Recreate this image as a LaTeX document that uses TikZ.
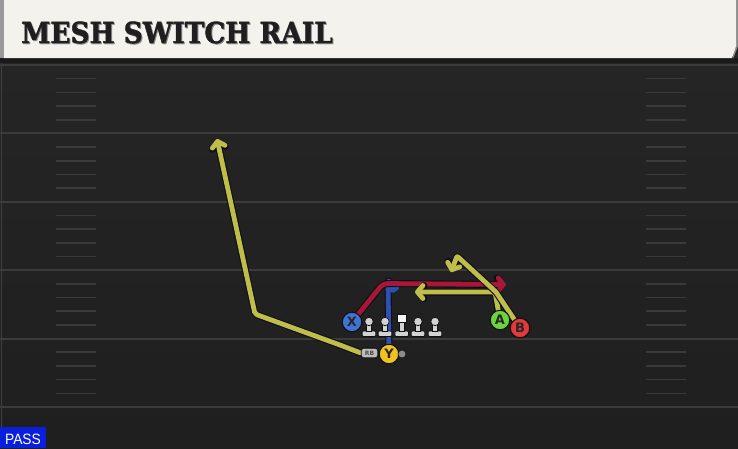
\documentclass[tikz,border=0pt]{standalone}
\usepackage{fontspec}
\usepackage{graphicx}
\usetikzlibrary{arrows.meta}
\newfontfamily\titlefont{DejaVu Serif}[BoldFeatures={FakeBold=1.5}]
\newfontfamily\lblfont{DejaVu Sans}
\newfontfamily\passfont{Liberation Sans}
\definecolor{fieldtop}{HTML}{252525}
\definecolor{fieldbot}{HTML}{1F1F1F}
\definecolor{yardline}{HTML}{3B3B3B}
\definecolor{hashc}{HTML}{3A3A3A}
\definecolor{headc}{HTML}{F4F2EC}
\definecolor{outl}{HTML}{101010}
\definecolor{ryel}{HTML}{BFBD4C}
\definecolor{rred}{HTML}{A8173A}
\definecolor{rblue}{HTML}{2D50B2}
\definecolor{cx}{HTML}{3D74D8}
\definecolor{cy}{HTML}{F0C21E}
\definecolor{ca}{HTML}{6BD33C}
\definecolor{cb}{HTML}{E23A3C}
\definecolor{olin}{HTML}{D3D3D3}
\definecolor{rbgrey}{HTML}{BDBDBD}
\definecolor{passblue}{HTML}{0A1FDC}
\newcommand\routeo[3]{%
  \draw[line width=7pt,draw=outl,line cap=round,line join=round,#1] #3;
  \draw[line width=4.8pt,draw=#2,line cap=round,line join=round,#1] #3;}
\begin{document}
\begin{tikzpicture}[x=1pt,y=-1pt,
  player/.style={circle,draw=outl,line width=1pt,minimum size=19.5pt,inner sep=0pt,
    font=\lblfont\bfseries\fontsize{13}{13}\selectfont,text=black!85},
  rbbox/.style={rectangle,rounded corners=2.5pt,fill=rbgrey,draw=outl,line width=0.7pt,
    minimum width=16.5pt,minimum height=9.5pt,inner sep=0pt,
    font=\lblfont\bfseries\fontsize{6}{6}\selectfont,text=black!70},
  tip/.style={-{Straight Barb[length=5.5pt,width=13pt,line cap=round,line join=round]}},
  smalltip/.style={-{Straight Barb[length=3pt,width=8pt,line cap=round,line join=round]}},
  hash/.style={draw=hashc,line width=1.6pt},
  yard/.style={draw=yardline,line width=2pt},
  lineman/.style={fill=olin,draw=outl,line width=0.7pt}]
\useasboundingbox (0,0) rectangle (738,448);
% field
\fill[fieldtop] (0,0) rectangle (738,58);
\shade[top color=fieldtop,bottom color=fieldbot] (0,58) rectangle (738,448);
\fill[black!90] (0,58) rectangle (738,63);
\draw[draw=black!75,line width=1pt] (1.5,63) -- (1.5,448);
% yard lines and hashes
\foreach \k in {0,...,5}{
  \draw[yard] (0,65+68.4*\k) -- (738,65+68.4*\k);
}
\foreach \k in {0,...,4}{
  \foreach \j in {1,...,4}{
    \draw[hash] (56,65+68.4*\k+13.68*\j) -- (96,65+68.4*\k+13.68*\j);
    \draw[hash] (646,65+68.4*\k+13.68*\j) -- (686,65+68.4*\k+13.68*\j);
  }
}
% header
\fill[black!40] (0,0) rectangle (4,58);
\fill[black!45] (734,0) -- (738,0) -- (738,46) -- (733,59) -- cycle;
\fill[headc] (4,0) -- (736,0) -- (736,46) -- (732,58) -- (4,58) -- cycle;
\node[anchor=base west,inner sep=0pt,text=black!45,
  font=\titlefont\bfseries\fontsize{29}{29}\selectfont] at (22,44) {\scalebox{0.91}[1]{MESH SWITCH RAIL}};
\node[anchor=base west,inner sep=0pt,text=black!88,
  font=\titlefont\bfseries\fontsize{29}{29}\selectfont] (title) at (21,43) {\scalebox{0.91}[1]{MESH SWITCH RAIL}};
% players
\node[player,fill=cx] (X) at (352,322) {X};
\node[player,fill=cy] (Y) at (389,354) {Y};
\node[player,fill=ca] (A) at (500,320) {A};
\node[player,fill=cb] (B) at (520,328) {B};
\node[rbbox] (RB) at (369.5,353) {RB};
% route points
\coordinate (y1) at (340,345);
\coordinate (y2) at (255,314);
\coordinate (y3) at (217,139);
\coordinate (a1) at (495,292);
\coordinate (a2) at (415,292);
\coordinate (b1) at (496,292);
\coordinate (b2) at (457,256);
\coordinate (b3) at (451,272);
\coordinate (r1) at (383,283.5);
\coordinate (r2) at (506,284.5);
\coordinate (u1) at (388,280);
\coordinate (u2) at (393,285);
\coordinate (u3) at (393,293);
% routes
\routeo{smalltip,rounded corners=1.5pt}{rblue}{(Y) -- (u1) -- (u2) -- (u3)}
\routeo{tip,rounded corners=5pt}{rred}{(X) -- (r1) -- (r2)}
\routeo{tip,rounded corners=2pt}{ryel}{(RB.west) -- (y1) -- (y2) -- (y3)}
\routeo{tip,rounded corners=2pt}{ryel}{(A) -- (a1) -- (a2)}
\routeo{tip,rounded corners=1pt}{ryel}{(B) -- (b1) -- (b2) -- (b3)}
% redraw player circles over routes
\node[player,fill=cx] at (X) {X};
\node[player,fill=ca] at (A) {A};
\node[player,fill=cb] at (B) {B};
\node[player,fill=cy] at (Y) {Y};
\node[rbbox] at (RB) {RB};
\node[circle,fill=black!45,draw=outl,line width=0.6pt,minimum size=8pt,inner sep=0pt] (ydot) at (402,354) {};
% offensive line
\foreach \x in {369,385,418,435}{
  \fill[lineman,rounded corners=1.2pt] (\x-6.8,331) rectangle (\x+6.8,336.5);
  \fill[lineman] (\x-2.2,323) rectangle (\x+2.2,331.5);
  \fill[lineman] (\x,321.5) circle (4.2pt);
}
\fill[lineman,rounded corners=1.2pt] (401.7-6.8,331) rectangle (401.7+6.8,336.5);
\fill[lineman] (401.7-2.2,321) rectangle (401.7+2.2,331.5);
\fill[lineman,fill=white!96!black] (401.7-4.2,314) rectangle (401.7+4.2,322.5);
% pass tag
\fill[passblue] (0,427) rectangle (46,448);
\node[anchor=base,inner sep=0pt,text=white,font=\passfont\fontsize{15}{15}\selectfont] (pass) at (23,444) {\scalebox{0.92}[1]{PASS}};
\end{tikzpicture}
\end{document}
